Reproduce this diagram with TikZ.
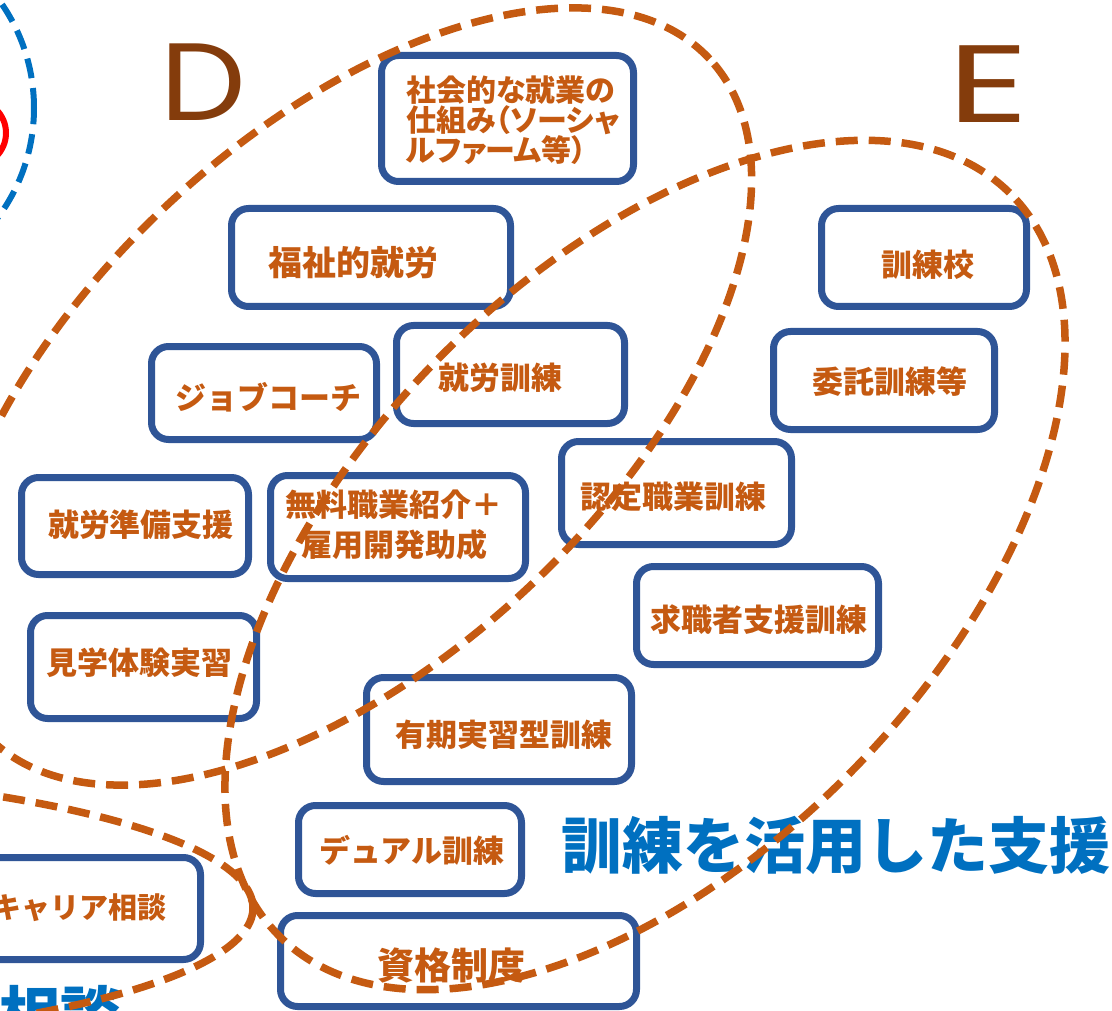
\documentclass[tikz,border=0pt]{standalone}
\usepackage{fontspec}
\newfontfamily\jp{Noto Sans CJK JP}
\newfontfamily\jpp[RawFeature=+palt]{Noto Sans CJK JP}
\newfontfamily\pop{Poppins}
\definecolor{boxblue}{HTML}{2F5597}
\definecolor{txtor}{HTML}{C55A11}
\definecolor{ellor}{HTML}{C55A11}
\definecolor{dbrown}{HTML}{843C0C}
\definecolor{kblue}{HTML}{0070C0}
\begin{document}
\begin{tikzpicture}[x=1pt,y=-1pt,
  box/.style={draw=boxblue, line width=7pt, rounded corners=17pt, fill=white, inner sep=0pt},
  lbl/.style={text=txtor, font=\jp\bfseries\fontsize{31}{31}\selectfont, inner sep=0pt},
  oval/.style={draw=ellor, line width=7.5pt, dash pattern=on 22pt off 11pt},
  bigletter/.style={text=dbrown, font=\pop\fontsize{110}{110}\selectfont, inner sep=0pt},
  bluetext/.style={text=kblue, font=\jp\bfseries\fontsize{61}{61}\selectfont, inner sep=0pt}
]
\useasboundingbox (0,0) rectangle (1112,1011);

% left circles
\draw[draw=kblue, line width=6pt, dash pattern=on 20pt off 10pt] (-150,108) circle [radius=184pt];
\draw[draw=red, line width=6pt] (-27,133) circle [radius=33pt];

% big letters
\node[bigletter, xscale=1.1] (D) at (203,82.5) {D};
\node[bigletter, xscale=1.45] (E) at (988.5,84) {E};

% boxes
\node[box, minimum width=252pt, minimum height=126pt] (b1) at (507.5,118.5) {};
\node[box, minimum width=279pt, minimum height=98pt] (b2) at (371,257.5) {};
\node[box, minimum width=205pt, minimum height=98pt] (b3) at (924,257.5) {};
\node[box, minimum width=225pt, minimum height=93pt] (b4) at (264,393) {};
\node[box, minimum width=228pt, minimum height=98pt] (b5) at (510.5,374.5) {};
\node[box, minimum width=221pt, minimum height=98pt] (b6) at (884,380.5) {};
\node[box, minimum width=227pt, minimum height=97pt] (b7) at (135,526) {};
\node[box, minimum width=255pt, minimum height=103pt] (b8) at (398,527) {};
\node[box, minimum width=230pt, minimum height=103pt] (b9) at (676.5,493) {};
\node[box, minimum width=226pt, minimum height=103pt] (b10) at (143.5,667) {};
\node[box, minimum width=242pt, minimum height=98pt] (b11) at (757.5,615.5) {};
\node[box, minimum width=265pt, minimum height=104pt] (b12) at (499,729.5) {};
\node[box, minimum width=223pt, minimum height=88pt] (b13) at (410,849.5) {};
\node[box, minimum width=237pt, minimum height=102pt] (b14) at (82,908.5) {};
\node[box, minimum width=356pt, minimum height=91pt] (b15) at (458.5,961) {};

% texts
\node[lbl, anchor=west, align=left, font=\jpp\bfseries\fontsize{30}{30}\selectfont] (t1) at (406,120.5) {社会的な就業の\\仕組み（ソーシャ\\ルファーム等）};
\node[lbl, font=\jp\bfseries\fontsize{34}{34}\selectfont] (t2) at (353,263) {福祉的就労};
\node[lbl] (t3) at (928,265) {訓練校};
\node[lbl] (t4) at (268,397) {ジョブコーチ};
\node[lbl] (t5) at (500,378) {就労訓練};
\node[lbl] (t6) at (890,382) {委託訓練等};
\node[lbl] (t7) at (141,525) {就労準備支援};
\node[lbl, align=center, font=\jp\bfseries\fontsize{31}{40}\selectfont] (t8) at (394,525) {無料職業紹介＋\\雇用開発助成};
\node[lbl] (t9) at (673,497) {認定職業訓練};
\node[lbl] (t10) at (139,663) {見学体験実習};
\node[lbl] (t11) at (759,620) {求職者支援訓練};
\node[lbl] (t12) at (504,735) {有期実習型訓練};
\node[lbl] (t13) at (412,850) {デュアル訓練};
\node[lbl, anchor=east, font=\jp\bfseries\fontsize{29}{29}\selectfont] (t14) at (167,908) {キャリア相談};
\node[lbl, font=\jp\bfseries\fontsize{37}{37}\selectfont] (t15) at (451,965) {資格制度};

% blue labels
\node[bluetext, anchor=west] (big) at (561,845) {訓練を活用した支援};
\node[bluetext, anchor=east] (sodan) at (122,1014) {相談};

% dashed ellipses (on top)
\draw[oval, rotate around={43:(347.5,396.5)}] (347.5,396.5) ellipse [x radius=495pt, y radius=263pt];
\draw[oval, rotate around={45.6:(645,565)}] (645,565) ellipse [x radius=521pt, y radius=292pt];
\draw[oval] (-350,908) ellipse [x radius=603pt, y radius=137pt];
\end{tikzpicture}
\end{document}
